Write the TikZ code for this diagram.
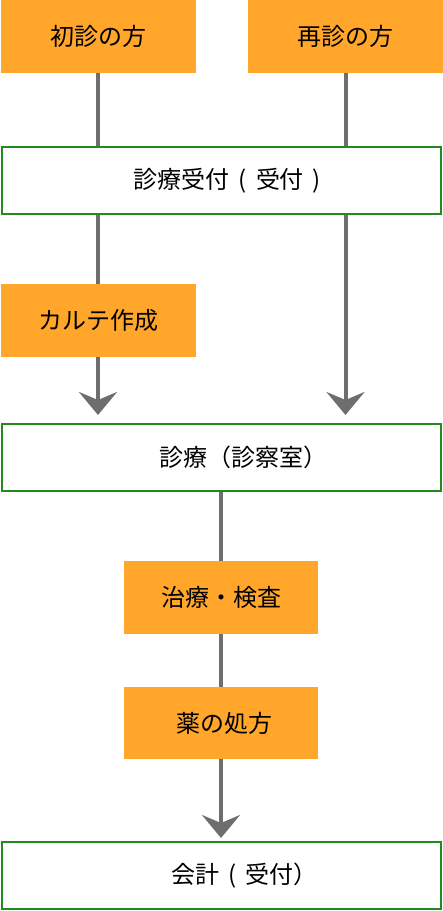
\documentclass[tikz,border=0pt]{standalone}
\usepackage{fontspec}
\setmainfont{Noto Sans CJK JP}
\usetikzlibrary{arrows.meta}
\definecolor{orangebox}{HTML}{FFA62B}
\definecolor{greenline}{HTML}{238A1E}
\definecolor{grayline}{HTML}{6E6E6E}
\newcommand{\koz}{\hspace{9pt}}

\begin{document}
\begin{tikzpicture}[x=1pt, y=-1pt,
        lepes/.style={fill=orangebox, minimum width=195pt, minimum height=73pt,
            inner sep=0pt, font=\fontsize{24}{28}\selectfont},
        allomas/.style={draw=greenline, line width=2pt, fill=white, minimum width=439pt,
            minimum height=67pt, inner sep=0pt, font=\fontsize{24}{28}\selectfont},
        vonal/.style={draw=grayline, line width=4pt},
        nyil/.style={vonal, -{Stealth[length=23pt, width=38pt, inset=8pt]}}]
        \useasboundingbox (0,0) rectangle (443,911);
        \pgfmathsetmacro{\bal}{98}
        \pgfmathsetmacro{\jobb}{345.5}
        \pgfmathsetmacro{\kozep}{221.5}

        \node[lepes] (shoshin) at (\bal, 36.5) {初診の方};
        \node[lepes] (saishin) at (\jobb, 36.5) {再診の方};
        \node[allomas] (uketsuke) at (\kozep, 180.5) {\hspace*{12pt}診療受付\koz{}(\koz{}受付\koz{})};
        \node[lepes] (karte) at (\bal, 320.5) {カルテ作成};
        \node[allomas] (shinryo) at (\kozep, 457.5) {\hspace*{44pt}診療（診察室）};
        \node[lepes, minimum height=73pt, minimum width=194pt] (chiryo) at (221, 597.5) {治療・検査};
        \node[lepes, minimum height=72pt, minimum width=194pt] (kusuri) at (221, 723) {\hspace*{6pt}薬の処方};
        \node[allomas] (kaikei) at (\kozep, 875.5) {\hspace*{46pt}会計\koz{}(\koz{}受付）};

        % egyenes vonalak
        \foreach \a/\b in {shoshin/uketsuke, saishin/uketsuke}
        \draw[vonal] (\a.south) -- (\a.south |- \b.north);
        \draw[vonal] (uketsuke.south -| karte) -- (karte.north);
        \draw[vonal] (shinryo.south -| chiryo) -- (chiryo.north);
        \draw[vonal] (chiryo.south) -- (kusuri.north);

        % nyilak
        \draw[nyil, shorten >=8pt] (karte.south) -- (karte.south |- shinryo.north);
        \draw[nyil, shorten >=8pt] (uketsuke.south -| saishin) -- (saishin |- shinryo.north);
        \draw[nyil, shorten >=3pt] (kusuri.south) -- (kusuri.south |- kaikei.north);
    \end{tikzpicture}
\end{document}
